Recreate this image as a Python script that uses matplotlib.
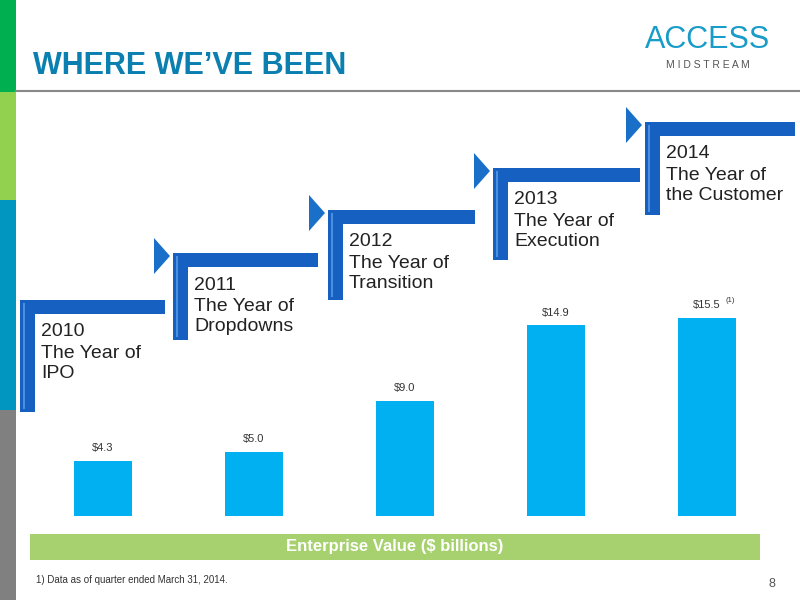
import matplotlib.pyplot as plt
from matplotlib.patches import Rectangle, Polygon

years = ["2010", "2011", "2012", "2013", "2014"]
themes = ["The Year of\nIPO", "The Year of\nDropdowns", "The Year of\nTransition",
          "The Year of\nExecution", "The Year of\nthe Customer"]
values = [4.3, 5.0, 9.0, 14.9, 15.5]
value_labels = ["$4.3", "$5.0", "$9.0", "$14.9", "$15.5"]

# step geometry in pixels: (left x, top y, horizontal end x, vertical bottom y)
steps = [(20, 300, 165, 412), (173, 253, 318, 340), (328, 210, 475, 300),
         (493, 168, 640, 260), (645, 122, 795, 215)]

plt.rcParams["font.family"] = ["Liberation Sans", "DejaVu Sans"]

W, H = 800, 600
fig = plt.figure(figsize=(8, 6), dpi=100)
bg = fig.add_axes([0, 0, 1, 1])
bg.set_xlim(0, W)
bg.set_ylim(H, 0)
bg.axis("off")

# side stripes
for y0, y1, c in [(0, 92, "#00b050"), (92, 200, "#92d050"), (200, 410, "#0096c0"), (410, 600, "#808080")]:
    bg.add_patch(Rectangle((0, y0), 16, y1 - y0, color=c, lw=0))
bg.plot([16, 800], [91, 91], color="#888888", lw=1.5)
bg.text(33, 66, "WHERE WE\u2019VE BEEN", fontsize=22, fontweight="bold", color="#0a7fb0",
        va="center", ha="left")
bg.text(708, 40, "ACCESS", fontsize=22, color="#1a9cc8", ha="center", va="center")
bg.text(708, 65, "M I D S T R E A M", fontsize=7.5, color="#555555", ha="center", va="center")

blue = "#1560c0"
for i, (x, y, xe, yb) in enumerate(steps):
    bg.add_patch(Rectangle((x, y), 15, yb - y, color=blue, lw=0))
    bg.add_patch(Rectangle((x, y), xe - x, 14, color=blue, lw=0))
    bg.add_patch(Rectangle((x + 3, y + 3), 2, yb - y - 6, color="#4a90e0", lw=0))
    if i > 0:
        ay = y + 3
        bg.add_patch(Polygon([[x - 19, ay - 18], [x - 3, ay], [x - 19, ay + 18]], color="#1a70c8", lw=0))
    bg.text(x + 21, y + 32, years[i], fontsize=14, color="#222222", va="center")
    bg.text(x + 21, y + 45, themes[i], fontsize=14, color="#222222", va="top", linespacing=1.2)

# green axis label band
bg.add_patch(Rectangle((30, 534), 730, 26, color="#a6d16e", lw=0))
bg.text(395, 547, "Enterprise Value ($ billions)", fontsize=12, fontweight="bold", color="white",
        ha="center", va="center")
bg.text(36, 580, "1) Data as of quarter ended March 31, 2014.", fontsize=7, color="#333333", va="center")
bg.text(772, 584, "8", fontsize=9, color="#555555", va="center", ha="center")

# bar chart
ax = fig.add_axes([27.5 / W, (H - 516) / H, 755 / W, 416 / H])
ax.set_xlim(-0.5, 4.5)
ax.set_ylim(0, 416 / 12.8)
ax.axis("off")
ax.bar(range(5), values, width=0.38, color="#00b0f0")
for i, (v, lab) in enumerate(zip(values, value_labels)):
    ax.text(i, v + 0.6, lab, ha="center", va="bottom", fontsize=8, color="#333333")
ax.annotate("(1)", (4, values[4] + 0.6), xytext=(13, 4), textcoords="offset points",
            fontsize=5.5, color="#333333", va="bottom")

fig.savefig("out.png", dpi=100)
